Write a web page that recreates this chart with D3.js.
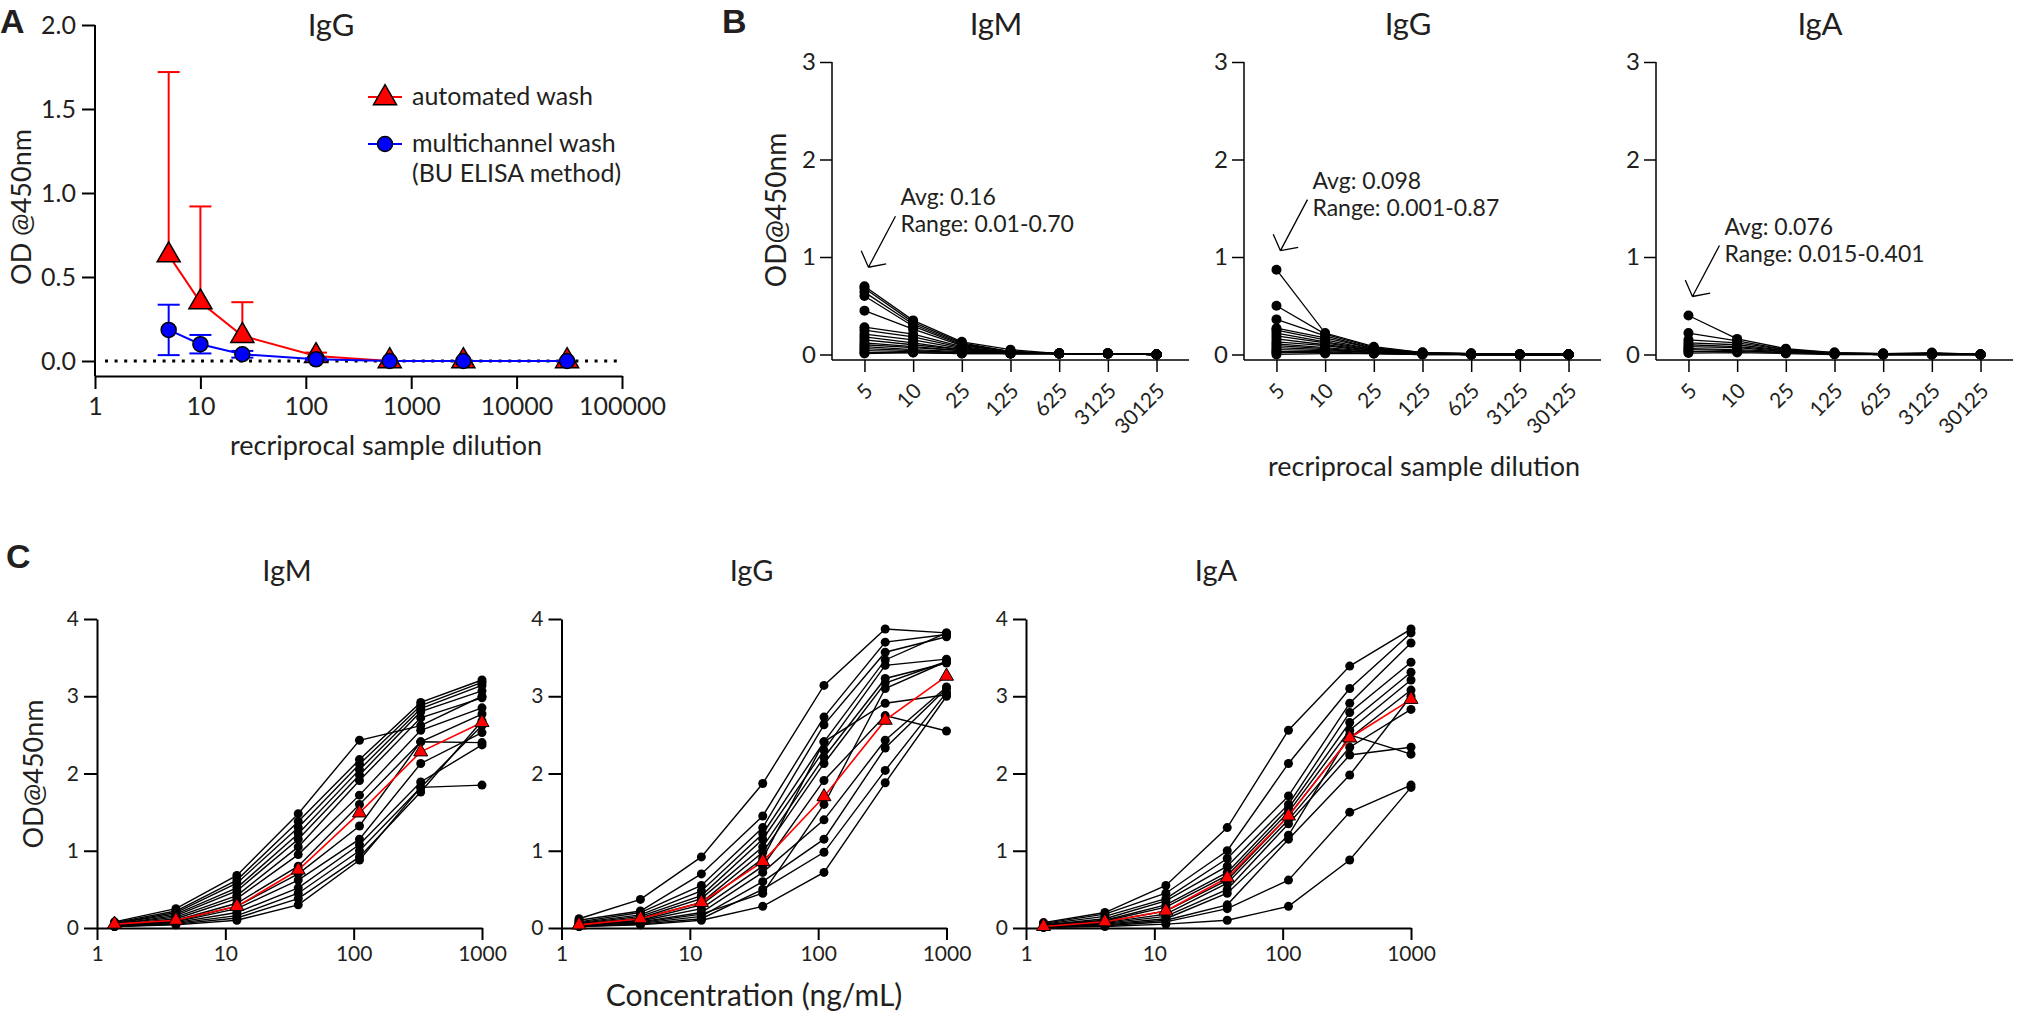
<!DOCTYPE html>
<html>
<head>
<meta charset="utf-8">
<script src="https://cdn.jsdelivr.net/npm/d3@7"></script>
<style>
  html, body { margin: 0; padding: 0; background: #fff; }
  svg { display: block; font-family: Lato, "Open Sans", sans-serif; }
</style>
</head>
<body>
<svg id="fig" width="2021" height="1024"></svg>
<script>
// ---- panel A: wash comparison ----
var washDilutions = [5, 10, 25, 125, 625, 3125, 30125];
var automatedMean = [0.63, 0.35, 0.15, 0.03, 0.00, 0.00, 0.00];
var automatedSD   = [1.09, 0.57, 0.20, 0.02, 0.00, 0.00, 0.00];
var multichannelMean = [0.185, 0.10, 0.04, 0.01, 0.00, 0.00, 0.00];
var multichannelSD   = [0.15, 0.055, 0.02, 0.005, 0.00, 0.00, 0.00];
var panelAXTicks = [1, 10, 100, 1000, 10000, 100000];
var panelAYTicks = [0, 0.5, 1.0, 1.5, 2.0];

// ---- panel B: background per sample ----
var dilutionLabels = ["5", "10", "25", "125", "625", "3125", "30125"];
var bIgM = [
  [0.70, 0.35, 0.13, 0.05, 0.01, 0.01, 0.00],
  [0.68, 0.33, 0.12, 0.03, 0.01, 0.01, 0.00],
  [0.64, 0.31, 0.11, 0.03, 0.01, 0.01, 0.00],
  [0.60, 0.29, 0.10, 0.03, 0.01, 0.01, 0.00],
  [0.45, 0.26, 0.09, 0.03, 0.01, 0.01, 0.00],
  [0.28, 0.21, 0.08, 0.02, 0.01, 0.01, 0.00],
  [0.25, 0.18, 0.07, 0.02, 0.01, 0.01, 0.00],
  [0.21, 0.15, 0.06, 0.02, 0.01, 0.01, 0.00],
  [0.18, 0.12, 0.05, 0.02, 0.01, 0.01, 0.00],
  [0.15, 0.10, 0.05, 0.02, 0.01, 0.01, 0.00],
  [0.12, 0.08, 0.04, 0.02, 0.01, 0.01, 0.00],
  [0.10, 0.07, 0.04, 0.01, 0.01, 0.01, 0.00],
  [0.08, 0.05, 0.03, 0.01, 0.01, 0.01, 0.00],
  [0.06, 0.04, 0.02, 0.01, 0.01, 0.01, 0.00],
  [0.04, 0.03, 0.02, 0.01, 0.01, 0.01, 0.00],
  [0.02, 0.02, 0.01, 0.01, 0.01, 0.01, 0.00],
  [0.01, 0.02, 0.01, 0.01, 0.01, 0.01, 0.00]
];
var bIgG = [
  [0.87, 0.22, 0.08, 0.02, 0.01, 0.00, 0.00],
  [0.50, 0.21, 0.07, 0.02, 0.01, 0.00, 0.00],
  [0.36, 0.19, 0.06, 0.02, 0.01, 0.00, 0.00],
  [0.27, 0.17, 0.06, 0.01, 0.01, 0.00, 0.00],
  [0.25, 0.15, 0.05, 0.01, 0.00, 0.00, 0.00],
  [0.22, 0.13, 0.05, 0.01, 0.00, 0.00, 0.00],
  [0.19, 0.12, 0.04, 0.01, 0.00, 0.00, 0.00],
  [0.16, 0.10, 0.04, 0.01, 0.00, 0.00, 0.00],
  [0.13, 0.09, 0.03, 0.01, 0.00, 0.00, 0.00],
  [0.11, 0.07, 0.03, 0.01, 0.00, 0.00, 0.00],
  [0.09, 0.06, 0.02, 0.01, 0.00, 0.00, 0.00],
  [0.07, 0.05, 0.02, 0.01, 0.00, 0.00, 0.00],
  [0.05, 0.04, 0.02, 0.01, 0.00, 0.00, 0.00],
  [0.03, 0.03, 0.01, 0.01, 0.00, 0.00, 0.00],
  [0.02, 0.02, 0.01, 0.00, 0.00, 0.00, 0.00],
  [0.001, 0.01, 0.01, 0.00, 0.00, 0.00, 0.00]
];
var bIgA = [
  [0.40, 0.16, 0.06, 0.02, 0.01, 0.02, 0.00],
  [0.22, 0.14, 0.05, 0.02, 0.01, 0.01, 0.00],
  [0.15, 0.12, 0.05, 0.01, 0.01, 0.01, 0.00],
  [0.12, 0.10, 0.04, 0.01, 0.00, 0.01, 0.00],
  [0.10, 0.08, 0.04, 0.01, 0.00, 0.01, 0.00],
  [0.08, 0.07, 0.03, 0.01, 0.00, 0.00, 0.00],
  [0.06, 0.05, 0.03, 0.01, 0.00, 0.00, 0.00],
  [0.05, 0.04, 0.02, 0.01, 0.00, 0.00, 0.00],
  [0.03, 0.03, 0.02, 0.01, 0.00, 0.00, 0.00],
  [0.015, 0.02, 0.01, 0.00, 0.00, 0.00, 0.00]
];
var bNotes = [
  ["Avg: 0.16", "Range: 0.01-0.70"],
  ["Avg: 0.098", "Range: 0.001-0.87"],
  ["Avg: 0.076", "Range: 0.015-0.401"]
];

// ---- panel C: standard curves ----
var concentrations = [1.37, 4.12, 12.3, 37, 111, 333, 1000];
var cIgM = [
  [0.08, 0.25, 0.68, 1.48, 2.43, 2.62, 3.00],
  [0.07, 0.22, 0.62, 1.38, 2.18, 2.92, 3.21],
  [0.06, 0.20, 0.58, 1.30, 2.12, 2.88, 3.18],
  [0.06, 0.18, 0.52, 1.22, 2.05, 2.84, 3.14],
  [0.05, 0.16, 0.48, 1.15, 1.98, 2.80, 3.07],
  [0.05, 0.14, 0.42, 1.05, 1.91, 2.72, 2.98],
  [0.04, 0.12, 0.38, 0.95, 1.72, 2.56, 2.85],
  [0.04, 0.10, 0.32, 0.80, 1.60, 2.41, 2.77],
  [0.03, 0.09, 0.28, 0.70, 1.32, 2.41, 2.40],
  [0.03, 0.08, 0.25, 0.62, 1.15, 2.13, 2.53],
  [0.03, 0.07, 0.20, 0.52, 1.08, 1.89, 2.37],
  [0.02, 0.06, 0.16, 0.45, 1.00, 1.82, 2.62],
  [0.02, 0.05, 0.13, 0.38, 0.92, 1.76, 2.68],
  [0.02, 0.04, 0.10, 0.30, 0.88, 1.82, 1.85]
];
var cIgMMean = [0.05, 0.10, 0.28, 0.75, 1.49, 2.28, 2.66];
var cIgG = [
  [0.12, 0.37, 0.92, 1.87, 3.14, 3.87, 3.82],
  [0.10, 0.22, 0.70, 1.45, 2.73, 3.70, 3.80],
  [0.08, 0.20, 0.55, 1.30, 2.63, 3.57, 3.77],
  [0.07, 0.17, 0.48, 1.22, 2.41, 3.47, 3.82],
  [0.06, 0.15, 0.42, 1.15, 2.30, 3.40, 3.48],
  [0.05, 0.13, 0.38, 1.05, 2.21, 3.23, 3.43],
  [0.05, 0.12, 0.33, 0.98, 2.13, 3.17, 3.45],
  [0.04, 0.10, 0.30, 0.90, 2.41, 2.91, 3.02],
  [0.04, 0.09, 0.25, 0.80, 1.91, 2.75, 2.55],
  [0.03, 0.08, 0.20, 0.72, 1.40, 2.43, 3.12],
  [0.03, 0.06, 0.15, 0.60, 1.15, 2.33, 3.10],
  [0.02, 0.05, 0.12, 0.50, 0.98, 2.04, 3.05],
  [0.02, 0.04, 0.10, 0.28, 0.72, 1.88, 3.00],
  [0.03, 0.07, 0.18, 0.45, 1.60, 3.10, 3.45]
];
var cIgGMean = [0.04, 0.12, 0.33, 0.86, 1.70, 2.69, 3.26];
var cIgA = [
  [0.07, 0.20, 0.55, 1.30, 2.56, 3.39, 3.87],
  [0.06, 0.18, 0.45, 1.00, 2.13, 3.10, 3.82],
  [0.05, 0.15, 0.38, 0.90, 1.71, 2.91, 3.69],
  [0.04, 0.12, 0.35, 0.80, 1.60, 2.79, 3.44],
  [0.04, 0.10, 0.30, 0.72, 1.55, 2.66, 3.31],
  [0.03, 0.09, 0.27, 0.68, 1.50, 2.56, 3.21],
  [0.03, 0.08, 0.22, 0.62, 1.45, 2.46, 3.08],
  [0.02, 0.07, 0.18, 0.58, 1.40, 2.34, 2.83],
  [0.02, 0.06, 0.15, 0.50, 1.35, 2.24, 2.34],
  [0.02, 0.05, 0.12, 0.45, 1.20, 2.50, 2.25],
  [0.01, 0.04, 0.10, 0.30, 1.15, 1.98, 3.00],
  [0.01, 0.03, 0.08, 0.25, 0.62, 1.50, 1.85],
  [0.01, 0.02, 0.05, 0.10, 0.28, 0.88, 1.82]
];
var cIgAMean = [0.02, 0.08, 0.22, 0.65, 1.45, 2.46, 2.96];
var concTicks = [1, 10, 100, 1000];

var svg = d3.select("#fig");
var ink = "#231f20";
var boldFont = "'Liberation Sans', Arial, sans-serif";

function styleAxis(g, size, width) {
  g.attr("font-family", null).attr("font-size", size).attr("color", ink);
  g.selectAll("line, path").attr("stroke", "#000").attr("stroke-width", width);
}

function label(g, txt, x, y, size, opts) {
  opts = opts || {};
  var t = g.append("text")
    .attr("x", x).attr("y", y)
    .attr("font-size", size)
    .attr("fill", ink)
    .attr("text-anchor", opts.anchor || "start")
    .text(txt);
  if (opts.bold) t.attr("font-weight", "bold").attr("font-family", boldFont);
  if (opts.rotate) t.attr("transform", "rotate(" + opts.rotate + "," + x + "," + y + ")");
  return t;
}

var tri = function(size) { return d3.symbol().type(d3.symbolTriangle).size(size)(); };

// ================= A =================
(function() {
  var x = d3.scaleLog().domain([1, 100000]).range([95, 622]);
  var y = d3.scaleLinear().domain([0, 2]).range([361, 25]);
  var g = svg.append("g").attr("class", "panel-a");
  var axisY = y(0) + 15;

  var xa = g.append("g").attr("transform", "translate(0," + axisY + ")")
    .call(d3.axisBottom(x).tickValues(panelAXTicks).tickFormat(d3.format("d"))
      .tickSize(13).tickPadding(8).tickSizeOuter(0));
  styleAxis(xa, 25, 2);

  var ya = g.append("g").attr("transform", "translate(" + x(1) + ",0)")
    .call(d3.axisLeft(y).tickValues(panelAYTicks).tickFormat(d3.format(".1f"))
      .tickSize(13).tickPadding(6));
  ya.select(".domain").attr("d", "M0," + axisY + "V" + y(2));
  styleAxis(ya, 25, 2);

  // dotted baseline at zero
  g.append("line")
    .attr("x1", x(1) + 10).attr("x2", x(100000))
    .attr("y1", y(0)).attr("y2", y(0))
    .attr("stroke", "#000").attr("stroke-width", 3)
    .attr("stroke-dasharray", "3,6.6");

  function series(mean, sd, color, both, marker) {
    var s = g.append("g");
    var pts = washDilutions.map(function(d, i) {
      return { x: x(d), m: mean[i], sd: sd[i] };
    });
    pts.forEach(function(p) {
      if (!p.sd) return;
      var top = y(p.m + p.sd), bot = both ? y(p.m - p.sd) : y(p.m);
      s.append("line").attr("x1", p.x).attr("x2", p.x).attr("y1", top).attr("y2", bot)
        .attr("stroke", color).attr("stroke-width", 2);
      s.append("line").attr("x1", p.x - 11).attr("x2", p.x + 11).attr("y1", top).attr("y2", top)
        .attr("stroke", color).attr("stroke-width", 2);
      if (both) {
        s.append("line").attr("x1", p.x - 11).attr("x2", p.x + 11).attr("y1", bot).attr("y2", bot)
          .attr("stroke", color).attr("stroke-width", 2);
      }
    });
    s.append("path")
      .attr("d", d3.line().x(function(p) { return p.x; }).y(function(p) { return y(p.m); })(pts))
      .attr("fill", "none").attr("stroke", color).attr("stroke-width", 2);
    pts.forEach(function(p) { marker(s, p.x, y(p.m)); });
  }

  function triangle(s, cx, cy) {
    s.append("path").attr("d", tri(230)).attr("transform", "translate(" + cx + "," + cy + ")")
      .attr("fill", "#ff0000").attr("stroke", "#000").attr("stroke-width", 1.5);
  }
  function circle(s, cx, cy) {
    s.append("circle").attr("cx", cx).attr("cy", cy).attr("r", 7.5)
      .attr("fill", "#0000ff").attr("stroke", "#000").attr("stroke-width", 1.5);
  }

  series(automatedMean, automatedSD, "#ff0000", false, triangle);
  series(multichannelMean, multichannelSD, "#0000ff", true, circle);

  // legend
  var lg = g.append("g");
  lg.append("line").attr("x1", 368).attr("x2", 402).attr("y1", 97).attr("y2", 97)
    .attr("stroke", "#ff0000").attr("stroke-width", 2);
  triangle(lg, 385, 98);
  label(lg, "automated wash", 412, 105, 25);
  lg.append("line").attr("x1", 368).attr("x2", 402).attr("y1", 144).attr("y2", 144)
    .attr("stroke", "#0000ff").attr("stroke-width", 2);
  circle(lg, 385, 144);
  label(lg, "multichannel wash", 412, 152, 25);
  label(lg, "(BU ELISA method)", 412, 182, 25);

  label(g, "IgG", 331, 36, 31, { anchor: "middle" });
  label(g, "OD @450nm", 31, 207, 27, { anchor: "middle", rotate: -90 });
  label(g, "recriprocal sample dilution", 386, 455, 27, { anchor: "middle" });
  label(g, "A", 0, 33, 34, { bold: true });
})();

// ================= B =================
function drawDilution(series, col, title, note, showYTitle) {
  var left = 832 + col * 412;
  var x = d3.scalePoint().domain(dilutionLabels).range([left, left + 357]).padding(0.667);
  var y = d3.scaleLinear().domain([0, 3]).range([354.5, 62]);
  var g = svg.append("g").attr("class", "panel-b");
  var axisY = 360;

  var xa = g.append("g").attr("transform", "translate(0," + axisY + ")")
    .call(d3.axisBottom(x).tickSize(12).tickSizeOuter(0));
  xa.select(".domain").attr("d", "M" + left + ",0H" + (left + 357));
  styleAxis(xa, 21, 1.5);
  xa.selectAll(".tick text")
    .attr("y", null).attr("x", null).attr("dy", "0.35em")
    .attr("text-anchor", "end")
    .attr("transform", "translate(4,27) rotate(-45)");

  var ya = g.append("g").attr("transform", "translate(" + left + ",0)")
    .call(d3.axisLeft(y).tickValues([0, 1, 2, 3]).tickFormat(d3.format("d"))
      .tickSize(12).tickPadding(4));
  ya.select(".domain").attr("d", "M0," + axisY + "V" + y(3));
  styleAxis(ya, 24, 1.5);

  var line = d3.line()
    .x(function(v, i) { return x(dilutionLabels[i]); })
    .y(function(v) { return y(v); });
  series.forEach(function(s) {
    g.append("path").attr("d", line(s)).attr("fill", "none")
      .attr("stroke", "#000").attr("stroke-width", 1.3);
  });
  series.forEach(function(s) {
    g.selectAll(null).data(s).enter().append("circle")
      .attr("cx", function(v, i) { return x(dilutionLabels[i]); })
      .attr("cy", function(v) { return y(v); })
      .attr("r", 5).attr("fill", "#000");
  });

  // annotation with open arrow pointing at the highest sample
  var top = d3.max(series, function(s) { return s[0]; });
  var tip = [x(dilutionLabels[0]) + 4, y(top) - 19];
  var start = [tip[0] + 27, tip[1] - 51];
  var ang = Math.atan2(start[1] - tip[1], start[0] - tip[0]);
  var arrow = d3.path();
  arrow.moveTo(start[0], start[1]);
  arrow.lineTo(tip[0], tip[1]);
  [-0.9, 0.9].forEach(function(da) {
    arrow.moveTo(tip[0], tip[1]);
    arrow.lineTo(tip[0] + 18 * Math.cos(ang + da), tip[1] + 18 * Math.sin(ang + da));
  });
  g.append("path").attr("d", arrow.toString()).attr("fill", "none")
    .attr("stroke", "#000").attr("stroke-width", 1.3);
  label(g, note[0], tip[0] + 32, tip[1] - 62, 23);
  label(g, note[1], tip[0] + 32, tip[1] - 35, 23);

  label(g, title, left + 178 - 14, 35, 31, { anchor: "middle" });
  if (showYTitle) label(g, "OD@450nm", left - 46, 210, 28, { anchor: "middle", rotate: -90 });
  return x;
}

drawDilution(bIgM, 0, "IgM", bNotes[0], true);
drawDilution(bIgG, 1, "IgG", bNotes[1], false);
drawDilution(bIgA, 2, "IgA", bNotes[2], false);
label(svg, "recriprocal sample dilution", 1424, 476, 27, { anchor: "middle" });
label(svg, "B", 722, 33, 34, { bold: true });

// ================= C =================
function drawConc(series, mean, col, title, showYTitle) {
  var left = 97 + col * 464.5;
  var x = d3.scaleLog().domain([1, 1000]).range([left, left + 385]);
  var y = d3.scaleLinear().domain([0, 4]).range([928, 619]);
  var g = svg.append("g").attr("class", "panel-c");

  var xa = g.append("g").attr("transform", "translate(0," + y(0) + ")")
    .call(d3.axisBottom(x).tickValues(concTicks).tickFormat(d3.format("d"))
      .tickSize(12).tickPadding(6).tickSizeOuter(0));
  styleAxis(xa, 21, 2);

  var ya = g.append("g").attr("transform", "translate(" + left + ",0)")
    .call(d3.axisLeft(y).tickValues([0, 1, 2, 3, 4]).tickFormat(d3.format("d"))
      .tickSize(13).tickPadding(5).tickSizeOuter(0));
  styleAxis(ya, 21, 2);

  var line = d3.line()
    .x(function(v, i) { return x(concentrations[i]); })
    .y(function(v) { return y(v); });
  series.forEach(function(s) {
    g.append("path").attr("d", line(s)).attr("fill", "none")
      .attr("stroke", "#000").attr("stroke-width", 1.4);
  });
  series.forEach(function(s) {
    g.selectAll(null).data(s).enter().append("circle")
      .attr("cx", function(v, i) { return x(concentrations[i]); })
      .attr("cy", function(v) { return y(v); })
      .attr("r", 4.5).attr("fill", "#000");
  });
  g.append("path").attr("d", line(mean)).attr("fill", "none")
    .attr("stroke", "#ff0000").attr("stroke-width", 1.6);
  g.selectAll(null).data(mean).enter().append("path")
    .attr("d", tri(85))
    .attr("transform", function(v, i) { return "translate(" + x(concentrations[i]) + "," + y(v) + ")"; })
    .attr("fill", "#ff0000").attr("stroke", "#000").attr("stroke-width", 1);

  label(g, title, left + 190, 581, 29, { anchor: "middle" });
  if (showYTitle) label(g, "OD@450nm", left - 54, 774, 27, { anchor: "middle", rotate: -90 });
}

drawConc(cIgM, cIgMMean, 0, "IgM", true);
drawConc(cIgG, cIgGMean, 1, "IgG", false);
drawConc(cIgA, cIgAMean, 2, "IgA", false);
label(svg, "Concentration (ng/mL)", 754, 1006, 30, { anchor: "middle" });
label(svg, "C", 6, 568, 34, { bold: true });
</script>
</body>
</html>
